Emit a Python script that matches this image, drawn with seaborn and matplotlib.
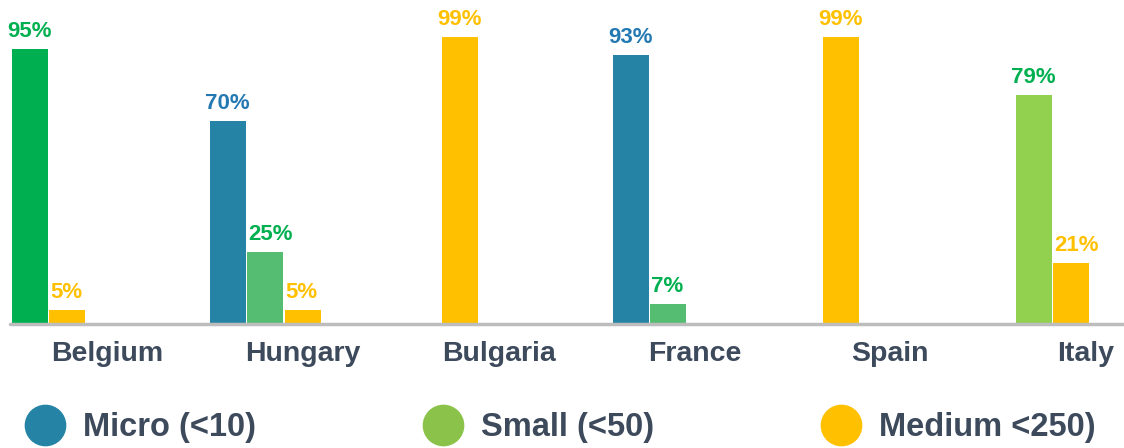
import numpy as np
import pandas as pd
import matplotlib
matplotlib.use('Agg')
import matplotlib.pyplot as plt
import seaborn as sns
from matplotlib.lines import Line2D

# data (percent of firms per size class)
countries = ['Belgium', 'Hungary', 'Bulgaria', 'France', 'Spain', 'Italy']
micro = [0, 70, 0, 93, 0, 0]
small = [95, 25, 0, 7, 0, 79]
medium = [5, 5, 99, 0, 99, 21]
series_names = ['Micro (<10)', 'Small (<50)', 'Medium <250)']

# colours - the "small" bars use several greens in the original
micro_color = '#2584A5'
small_colors = ['#00B050', '#55BD71', '#55BD71', '#55BD71', '#55BD71', '#92D050']
medium_color = '#FFC000'
text_colors = {'micro': '#2479B3', 'small': '#00B050', 'medium': '#FFC000'}
legend_colors = ['#2584A5', '#8BC34A', '#FFC000']
dark = '#3D4A5C'

# layout: bar slot width (group spacing = 1) and where each group's first bar starts
slot = 0.186
lead = [0.09, 0, 0.82, 0, 0.23, 0]

sns.set_theme(style='white')
plt.rcParams['font.family'] = ['Liberation Sans', 'DejaVu Sans']

# build one row per visible bar
rows = []
for i, c in enumerate(countries):
    k = 0
    for name, vals in [('micro', micro), ('small', small), ('medium', medium)]:
        v = vals[i]
        if v <= 0:
            continue
        if name == 'micro':
            col = micro_color
        elif name == 'small':
            col = small_colors[i]
        else:
            col = medium_color
        rows.append({'bar': f'{c}-{name}', 'series': name, 'pos': i + (lead[i] + k + 0.5) * slot,
                     'value': v, 'color': col, 'first': k == 0})
        k += 1
df = pd.DataFrame(rows)

fig = plt.figure(figsize=(11.24, 4.48), dpi=100)
ax = fig.add_axes([0, 0.2768, 1, 0.711])

sns.barplot(data=df, x='pos', y='value', hue='bar',
            palette=dict(zip(df['bar'], df['color'])),
            dodge=False, native_scale=True, width=0.96, saturation=1,
            legend=False, linewidth=0, ax=ax)

ax.set_xlim(-0.0372, 5.541)
ax.set_ylim(0, 110)
for s in ax.spines.values():
    s.set_visible(False)
ax.axhline(0, xmin=10 / 1124, color='#BDBDBD', lw=2.5, clip_on=False)

# value labels
bw = 0.96 * slot
for _, r in df.iterrows():
    if r['first']:
        x, ha = r['pos'], 'center'
    else:
        x, ha = r['pos'] - bw / 2 + 0.004, 'left'
    ax.annotate(f"{r['value']}%", (x, r['value']), xytext=(0, 5), textcoords='offset points',
                ha=ha, va='bottom', fontsize=16, fontweight='bold',
                color=text_colors[r['series']])

# country labels
ax.set_xticks([0.494 + 0.9716 * i for i in range(len(countries))])
ax.set_xticklabels(countries, fontsize=20.5, fontweight='bold', color=dark)
ax.tick_params(axis='x', length=0, pad=12)
ax.set_yticks([])
ax.set_xlabel('')
ax.set_ylabel('')

# legend with big dots
handles = [Line2D([], [], marker='o', linestyle='', markersize=29, color=c) for c in legend_colors]
leg = fig.legend(handles, series_names, loc='center left', bbox_to_anchor=(0.007, 0.045),
                 ncol=3, frameon=False, borderpad=0, handlelength=1.25, handletextpad=0.55,
                 columnspacing=5.1, prop={'size': 23.5, 'weight': 'bold'})
for t in leg.get_texts():
    t.set_color(dark)

fig.savefig('out.png', dpi=100)
